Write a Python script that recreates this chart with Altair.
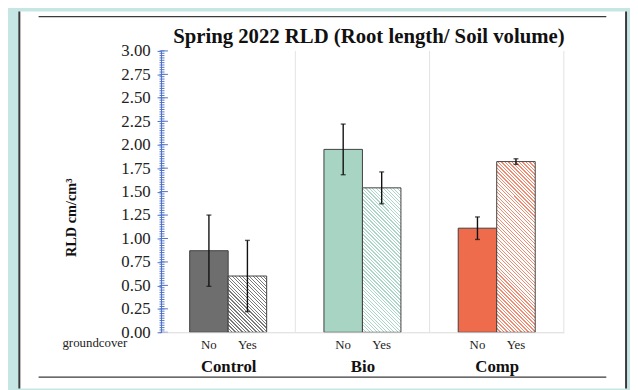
import math
import altair as alt
import pandas as pd

# ---------------- data ----------------
treatments = ["Control", "Bio", "Comp"]
groundcover = ["No", "Yes"]
mean_no = [0.87, 1.95, 1.11]
mean_yes = [0.60, 1.54, 1.82]
low_no = [0.49, 1.68, 0.99]
high_no = [1.25, 2.22, 1.23]
low_yes = [0.22, 1.37, 1.79]
high_yes = [0.98, 1.71, 1.85]
y_ticks = [0.0, 0.25, 0.5, 0.75, 1.0, 1.25, 1.5, 1.75, 2.0, 2.25, 2.5, 2.75, 3.0]
minor_step = 0.025

title_text = "Spring 2022 RLD (Root length/ Soil volume)"
y_title = "RLD cm/cm³"
x_group_label = "groundcover"

# ---------------- style ----------------
SERIF = "Liberation Serif"
TEAL = "#c6e6e5"
BLUE = "#4f72c9"
solid_colors = ["#6e6e6e", "#a8d4c3", "#ee6b4c"]
hatch_colors = ["#7a7a7a", "#acd6c6", "#f08c72"]
BAR_STROKE = "#3f3f3f"
PW, PH = 136, 285
YMAX = 3.0
BAND_W = 39.0

one = pd.DataFrame({"k": [0]})
yscale = alt.Scale(domain=[0, YMAX], nice=False, zero=True)


def hatch(value, color):
    w = BAND_W
    h = max(value / YMAX * PH, 1.0)
    s = (w + h) / (w * w + h * h)
    L = (w + h) / math.sqrt(2)
    period, lw = 2.5, 0.9
    stops = []
    k = 0
    while k * period < L:
        a = k * period / L
        b = min((k * period + lw) / L, 1.0)
        c = min((k + 1) * period / L, 1.0)
        stops += [
            {"offset": a, "color": color},
            {"offset": b, "color": color},
            {"offset": b, "color": "#ffffff"},
            {"offset": c, "color": "#ffffff"},
        ]
        k += 1
    return {"gradient": "linear", "x1": 0, "y1": 1, "x2": w * s, "y2": 1 - h * s,
            "stops": stops}


def panel(i):
    df = pd.DataFrame({
        "g": groundcover,
        "mean": [mean_no[i], mean_yes[i]],
        "lo": [low_no[i], low_yes[i]],
        "hi": [high_no[i], high_yes[i]],
    })
    xaxis = alt.Axis(
        title=treatments[i], titleFont=SERIF, titleFontSize=17, titleFontWeight="bold",
        titleColor="#111", titleY=40, titleBaseline="alphabetic",
        labelFont=SERIF, labelFontSize=13, labelColor="#222", labelAngle=0,
        labelBaseline="alphabetic", labelPadding=16,
        ticks=False, tickSize=0, domainColor="#d9d9d9", domainWidth=1, grid=False, zindex=1,
    )
    xenc = alt.X("g:N", scale=alt.Scale(domain=groundcover, paddingInner=0, paddingOuter=0.744),
                 axis=xaxis)
    if i == 0:
        yaxis = alt.Axis(values=y_ticks, format=".2f", title=None, grid=False,
                         labelFont=SERIF, labelFontSize=17, labelColor="#222",
                         labelPadding=7, labelFlush=False, labelOverlap=False,
                         labelAlign="right", labelBaseline="middle",
                         tickSize=4, tickColor=BLUE, tickWidth=1,
                         domainColor=BLUE, domainWidth=1, zindex=1)
    else:
        yaxis = None

    def Y(field):
        return alt.Y(field, scale=yscale, axis=yaxis)

    base = alt.Chart(df)
    layers = []
    if i == 0:
        deco = alt.Chart(one)
        layers += [
            deco.mark_rect(color=TEAL).encode(x=alt.value(-155), x2=alt.value(475),
                                             y=alt.value(-40), y2=alt.value(342)),
            deco.mark_rect(color="#ffffff").encode(x=alt.value(-143), x2=alt.value(471),
                                                  y=alt.value(-40), y2=alt.value(342)),
            deco.mark_rule(color="#3a3a3a", strokeWidth=2).encode(
                x=alt.value(-143.5), y=alt.value(-40), y2=alt.value(342)),
            deco.mark_rule(color="#3a3a3a", strokeWidth=2).encode(
                x=alt.value(471), y=alt.value(-40), y2=alt.value(342)),
            deco.mark_rule(color="#3a3a3a", strokeWidth=1.3).encode(
                x=alt.value(-124), x2=alt.value(451), y=alt.value(-34.7)),
            deco.mark_rule(color="#3a3a3a", strokeWidth=1.3).encode(
                x=alt.value(-124), x2=alt.value(451), y=alt.value(330.3)),
            deco.mark_text(text=title_text, font=SERIF, fontSize=21, fontWeight="bold",
                           color="#111", align="center", baseline="alphabetic").encode(
                x=alt.value(210.5), y=alt.value(-8.5)),
            deco.mark_text(text=y_title, font=SERIF, fontSize=14.5, fontWeight="bold",
                           color="#111", align="center", baseline="middle", angle=270).encode(
                x=alt.value(-90), y=alt.value(169)),
            deco.mark_text(text=x_group_label, font=SERIF, fontSize=13, color="#222",
                           align="center", baseline="alphabetic").encode(
                x=alt.value(-67), y=alt.value(300)),
        ]
        minor = pd.DataFrame({"v": [round(k * minor_step, 3) for k in range(int(YMAX / minor_step) + 1)]})
        major = pd.DataFrame({"v": y_ticks})
        layers += [
            alt.Chart(minor).mark_rule(color=BLUE, strokeWidth=1).encode(
                y=Y("v:Q"), x=alt.value(-1.5), x2=alt.value(3.5)),
            alt.Chart(major).mark_rule(color=BLUE, strokeWidth=1).encode(
                y=Y("v:Q"), x=alt.value(0), x2=alt.value(7)),
        ]
    # panel separator (right edge)
    layers.append(alt.Chart(one).mark_rule(color="#e2e2e2", strokeWidth=1).encode(
        x=alt.value(PW), y=alt.value(0), y2=alt.value(PH)))
    layers += [
        base.transform_filter("datum.g == 'No'").mark_bar(
            fill=solid_colors[i], stroke=BAR_STROKE, strokeWidth=1).encode(x=xenc, y=Y("mean:Q")),
        base.transform_filter("datum.g == 'Yes'").mark_bar(
            fill=hatch(mean_yes[i], hatch_colors[i]), stroke=BAR_STROKE, strokeWidth=1).encode(
            x=xenc, y=Y("mean:Q")),
        base.mark_rule(color="#111", strokeWidth=1.4).encode(x=xenc, y=Y("lo:Q"), y2="hi:Q"),
        base.mark_tick(color="#111", size=5, thickness=1.4, orient="horizontal").encode(
            x=xenc, y=Y("lo:Q")),
        base.mark_tick(color="#111", size=5, thickness=1.4, orient="horizontal").encode(
            x=xenc, y=Y("hi:Q")),
    ]
    return alt.layer(*layers).properties(width=PW, height=PH)


chart = (
    alt.hconcat(panel(0), panel(1), panel(2), spacing=0, bounds="flush")
    .properties(padding=0, background=TEAL)
    .configure_view(stroke=None)
    .configure_axisY(labelFont=SERIF, labelFontSize=17)
    .configure_axisX(labelFont=SERIF, labelFontSize=13)
)

chart.save("out.html", embed_options={"renderer": "svg", "actions": False})
